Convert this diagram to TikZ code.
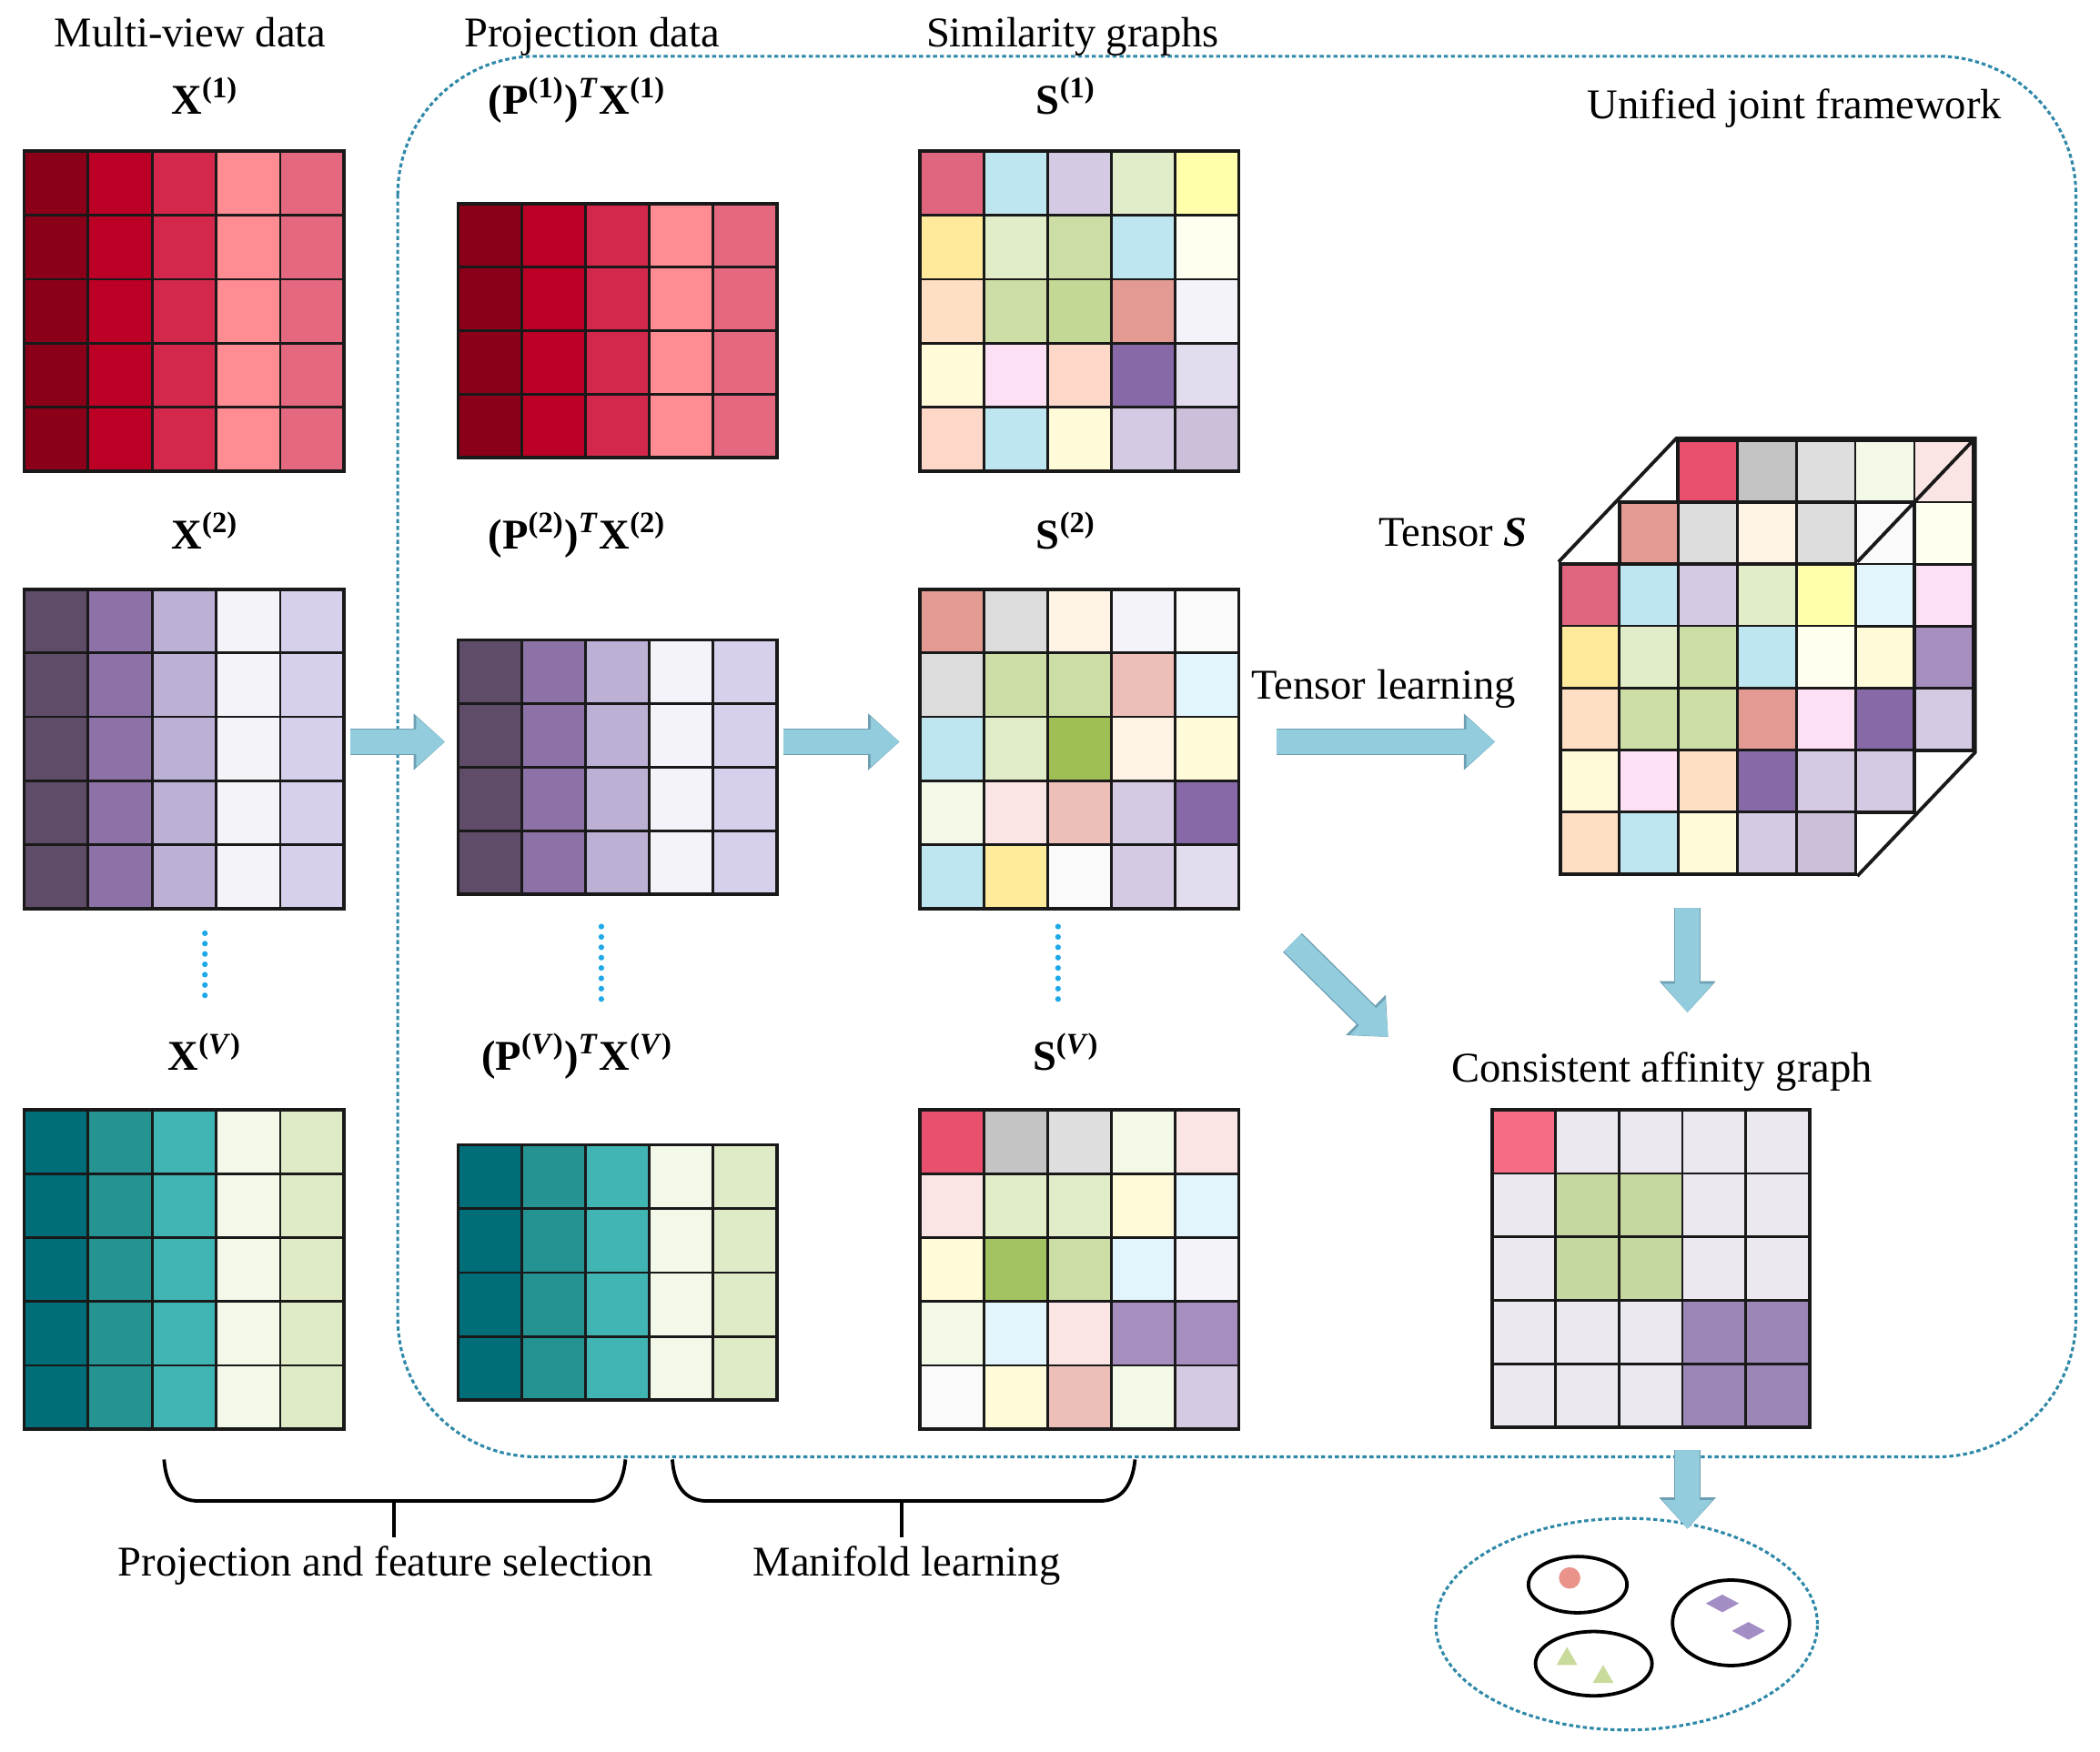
\documentclass[tikz,border=0pt]{standalone}
\usepackage{fontspec}
\setmainfont{Liberation Serif}
\usepackage{tikz}
\usetikzlibrary{arrows.meta, fit, positioning, shapes.geometric}
% column shades of the data matrices
\definecolor{r1}{HTML}{8B0018}\definecolor{r2}{HTML}{BC0025}\definecolor{r3}{HTML}{D3274B}
\definecolor{r4}{HTML}{FF8B93}\definecolor{r5}{HTML}{E36880}
\definecolor{p1}{HTML}{5F4C69}\definecolor{p2}{HTML}{8C72A6}\definecolor{p3}{HTML}{BCB0D5}
\definecolor{p4}{HTML}{F5F3FA}\definecolor{p5}{HTML}{D6D0EC}
\definecolor{t1}{HTML}{006E78}\definecolor{t2}{HTML}{259391}\definecolor{t3}{HTML}{40B5B4}
\definecolor{t4}{HTML}{F3F9E9}\definecolor{t5}{HTML}{DFEAC6}
% similarity graph shades
\definecolor{sRed}{HTML}{E0657E}\definecolor{sCyan}{HTML}{BDE6F0}\definecolor{sLav}{HTML}{D5CAE3}
\definecolor{sLgreen}{HTML}{E1ECC8}\definecolor{sYellow}{HTML}{FEFEAB}\definecolor{sGold}{HTML}{FEEA9A}
\definecolor{sGreen}{HTML}{CCDEA5}\definecolor{sIvory}{HTML}{FFFFF0}\definecolor{sPeach}{HTML}{FEDFC3}
\definecolor{sGreenB}{HTML}{C4D895}\definecolor{sSalmon}{HTML}{E29A92}\definecolor{sWhite}{HTML}{F5F3FA}
\definecolor{sCream}{HTML}{FFFAD8}\definecolor{sPink}{HTML}{FDE0F3}\definecolor{sApricot}{HTML}{FDD8C9}
\definecolor{sPurple}{HTML}{8669A6}\definecolor{sLilac}{HTML}{E3DCEE}\definecolor{sMauve}{HTML}{CCBFDA}
\definecolor{sGray}{HTML}{DCDCDC}\definecolor{sLinen}{HTML}{FFF3E5}\definecolor{sSnow}{HTML}{FAFAFA}
\definecolor{sRose}{HTML}{EEBEB9}\definecolor{sIce}{HTML}{E3F5FC}\definecolor{sBlush}{HTML}{FBE5E4}
\definecolor{sHoney}{HTML}{FEEC9A}\definecolor{sMint}{HTML}{F3F9E7}\definecolor{sOlive}{HTML}{9FBF55}
\definecolor{sCrimson}{HTML}{E8506E}\definecolor{sGrayB}{HTML}{C4C4C4}\definecolor{sGrayC}{HTML}{DEDEDE}
\definecolor{sOliveB}{HTML}{A3C262}\definecolor{sMidPurple}{HTML}{A68FBF}
\definecolor{aRed}{HTML}{F76B85}\definecolor{aGray}{HTML}{EBE8F0}\definecolor{aGreen}{HTML}{C5D89F}
\definecolor{aPurple}{HTML}{9B86B6}
% the rest
\definecolor{arrowfill}{HTML}{93CDDD}\definecolor{arrowedge}{HTML}{6C9FB2}
\definecolor{framecol}{HTML}{2E88A8}\definecolor{dotcol}{HTML}{1FA8E8}
\definecolor{dotred}{HTML}{E9938B}\definecolor{tricol}{HTML}{C8DB9B}\definecolor{diacol}{HTML}{A38DC5}
\newcommand{\labfont}{\fontsize{13.5pt}{16pt}\selectfont}
\newcommand{\vw}[1]{\textsuperscript{(#1)}}
\tikzset{
    cell/.style={draw=black!90, line width=0.8pt},
    gridframe/.style={draw=black!90, line width=1.1pt, inner sep=0pt},
    lab/.style={anchor=base, inner sep=0pt, font=\labfont},
    mathlab/.style={lab, font=\labfont\bfseries},
    framebox/.style={draw=framecol, line width=0.9pt, dash pattern=on 1.3pt off 0.9pt, rounded corners=1.55cm},
    vdots/.style={draw=dotcol, line width=1.8pt, line cap=round, dash pattern=on 0pt off 3.3pt},
    blockarrow/.style={draw=arrowfill, line width=7.7pt, -{Triangle[length=9.2pt,width=15.4pt]},
        preaction={draw=arrowedge, line width=8.5pt, -{Triangle[length=10pt,width=17.4pt]}}},
    brace/.style={draw, line width=1.1pt},
    cubeedge/.style={draw=black!90, line width=1.1pt},
    cluster/.style={draw, ellipse, line width=1.1pt, inner sep=0pt} }
% name, left, top, cell width, cell height, rows, colours (row by row, 5 a row)
\newcommand{\cellgrid}[7]{%
    \foreach \cc [count=\k from 0] in {#7} {
        \pgfmathtruncatemacro{\cellc}{mod(\k,5)}
        \pgfmathtruncatemacro{\cellr}{floor(\k/5)}
        \draw[cell, fill=\cc] ({#2+\cellc*#4},{#3+\cellr*#5}) rectangle ++(#4,#5);
    }
    \node[gridframe, fit={(#2,#3) ({#2+5*#4},{#3+#6*#5})}] (#1) {};
}

\begin{document}
\begin{tikzpicture}[x=0.015cm, y=-0.015cm]
    \path[use as bounding box, fill=white] (0,0) rectangle (1568,1308);
    % ---- unified framework
    \draw[framebox] (297,42) rectangle (1550,1088);
    \node[lab] (framelab) at (1340,89) {Unified joint framework};
    % ---- titles
    \node[lab] (mvtitle) at (142,35) {Multi-view data};
    \node[lab] (pjtitle) at (442,35) {Projection data};
    \node[lab] (sgtitle) at (801,35) {Similarity graphs};
    % ---- multi-view data
    \cellgrid{x1}{18}{113}{47.8}{47.8}{5}{r1,r2,r3,r4,r5,r1,r2,r3,r4,r5,r1,r2,r3,r4,r5,r1,r2,r3,r4,r5,r1,r2,r3,r4,r5}
    \cellgrid{x2}{18}{440}{47.8}{47.7}{5}{p1,p2,p3,p4,p5,p1,p2,p3,p4,p5,p1,p2,p3,p4,p5,p1,p2,p3,p4,p5,p1,p2,p3,p4,p5}
    \cellgrid{xv}{18}{829}{47.8}{47.7}{5}{t1,t2,t3,t4,t5,t1,t2,t3,t4,t5,t1,t2,t3,t4,t5,t1,t2,t3,t4,t5,t1,t2,t3,t4,t5}
    \node[mathlab] (x1lab) at (153,85) {X\vw{1}};
    \node[mathlab] (x2lab) at (153,410) {X\vw{2}};
    \node[mathlab] (xvlab) at (153,799) {X\vw{\textit{V}}};
    % ---- projection data
    \cellgrid{p1}{342}{152}{47.6}{47.5}{4}{r1,r2,r3,r4,r5,r1,r2,r3,r4,r5,r1,r2,r3,r4,r5,r1,r2,r3,r4,r5}
    \cellgrid{p2}{342}{478}{47.6}{47.5}{4}{p1,p2,p3,p4,p5,p1,p2,p3,p4,p5,p1,p2,p3,p4,p5,p1,p2,p3,p4,p5}
    \cellgrid{pv}{342}{855}{47.6}{47.7}{4}{t1,t2,t3,t4,t5,t1,t2,t3,t4,t5,t1,t2,t3,t4,t5,t1,t2,t3,t4,t5}
    \node[mathlab] (p1lab) at (431,85) {(P\vw{1})\textsuperscript{\textit{T}}X\vw{1}};
    \node[mathlab] (p2lab) at (431,410) {(P\vw{2})\textsuperscript{\textit{T}}X\vw{2}};
    \node[mathlab] (pvlab) at (431,799) {(P\vw{\textit{V}})\textsuperscript{\textit{T}}X\vw{\textit{V}}};
    % ---- similarity graphs
    \cellgrid{s1}{687}{113}{47.6}{47.8}{5}{sRed,sCyan,sLav,sLgreen,sYellow,
        sGold,sLgreen,sGreen,sCyan,sIvory,
        sPeach,sGreen,sGreenB,sSalmon,sWhite,
        sCream,sPink,sApricot,sPurple,sLilac,
        sApricot,sCyan,sCream,sLav,sMauve}
    \cellgrid{s2}{687}{440}{47.6}{47.7}{5}{sSalmon,sGray,sLinen,sWhite,sSnow,
        sGray,sGreen,sGreen,sRose,sIce,
        sCyan,sLgreen,sOlive,sLinen,sCream,
        sMint,sBlush,sRose,sLav,sPurple,
        sCyan,sHoney,sSnow,sLav,sLilac}
    \cellgrid{sv}{687}{829}{47.6}{47.7}{5}{sCrimson,sGrayB,sGrayC,sMint,sBlush,
        sBlush,sLgreen,sLgreen,sCream,sIce,
        sCream,sOliveB,sGreen,sIce,sWhite,
        sMint,sIce,sBlush,sMidPurple,sMidPurple,
        sSnow,sCream,sRose,sMint,sLav}
    \node[mathlab] (s1lab) at (796,85) {S\vw{1}};
    \node[mathlab] (s2lab) at (796,410) {S\vw{2}};
    \node[mathlab] (svlab) at (796,799) {S\vw{\textit{V}}};
    % ---- vertical dots
    \draw[vdots] (153,697) -- (153,750);
    \draw[vdots] (449,692) -- (449,748);
    \draw[vdots] (790,692) -- (790,748);
    % ---- tensor
    \cellgrid{tback}{1253}{328.6}{44.1}{46.4}{5}{sCrimson,sGrayB,sGrayC,sMint,sBlush,
        sSnow,sSnow,sSnow,sSnow,sIvory,
        sSnow,sSnow,sSnow,sSnow,sPink,
        sSnow,sSnow,sSnow,sSnow,sMidPurple,
        sSnow,sSnow,sSnow,sSnow,sLav}
    \cellgrid{tmid}{1209.1}{374.8}{44.1}{46.4}{5}{sSalmon,sGray,sLinen,sGray,sSnow,
        sSnow,sSnow,sSnow,sSnow,sIce,
        sSnow,sSnow,sSnow,sSnow,sCream,
        sSnow,sSnow,sSnow,sSnow,sPurple,
        sSnow,sSnow,sSnow,sSnow,sLav}
    \cellgrid{tensor}{1165}{421}{44.1}{46.4}{5}{sRed,sCyan,sLav,sLgreen,sYellow,
        sGold,sLgreen,sGreen,sCyan,sIvory,
        sPeach,sGreen,sGreen,sSalmon,sPink,
        sCream,sPink,sPeach,sPurple,sLav,
        sPeach,sCyan,sCream,sLav,sMauve}
    \draw[cubeedge] (tensor.north west) -- (tback.north west) -- (tback.north east)
        -- (tback.south east) -- (tensor.south east);
    \draw[cubeedge] (tensor.north east) -- (tback.north east);
    \node[lab] (tensorlab) at (1085,408) {Tensor \textbf{\textit{S}}};
    \node[lab] (tlearn) at (1033,522) {Tensor learning};
    % ---- consistent affinity graph
    \node[lab] (afflab) at (1241,808) {Consistent affinity graph};
    \cellgrid{aff}{1114}{829}{47.4}{47.4}{5}{aRed,aGray,aGray,aGray,aGray,
        aGray,aGreen,aGreen,aGray,aGray,
        aGray,aGreen,aGreen,aGray,aGray,
        aGray,aGray,aGray,aPurple,aPurple,
        aGray,aGray,aGray,aPurple,aPurple}
    % ---- clusters
    \node[cluster, draw=framecol, line width=0.9pt, dash pattern=on 1.3pt off 0.9pt,
        minimum width=4.275cm, minimum height=2.37cm] (clusters) at (1214.5,1213) {};
    \node[cluster, minimum width=1.104cm, minimum height=0.63cm] (cla) at (1178,1183.5) {};
    \node[cluster, minimum width=1.305cm, minimum height=0.72cm] (clb) at (1190,1242.5) {};
    \node[cluster, minimum width=1.311cm, minimum height=0.957cm] (clc) at (1292.5,1212) {};
    \node[circle, fill=dotred, minimum size=0.24cm, inner sep=0pt] (dota) at (1172,1178.5) {};
    \node[regular polygon, regular polygon sides=3, fill=tricol, minimum size=0.27cm, inner sep=0pt] (tria) at (1170,1239) {};
    \node[regular polygon, regular polygon sides=3, fill=tricol, minimum size=0.27cm, inner sep=0pt] (trib) at (1197,1252.5) {};
    \node[diamond, fill=diacol, minimum width=0.375cm, minimum height=0.204cm, inner sep=0pt] (diaa) at (1286,1197.5) {};
    \node[diamond, fill=diacol, minimum width=0.375cm, minimum height=0.204cm, inner sep=0pt] (diab) at (1305.5,1218) {};
    % ---- block arrows
    \coordinate (midrow) at (0,554);
    \coordinate (downcol) at (1260,0);
    \coordinate (diagtail) at (965,704);
    \coordinate (diagtip) at (1036.5,774.5);
    \draw[blockarrow, shorten <=1.3pt, shorten >=3.6pt] (x2.east |- midrow) -- (p2.west |- midrow);
    \draw[blockarrow, shorten <=1.7pt, shorten >=6pt] (p2.east |- midrow) -- (s2.west |- midrow);
    \draw[blockarrow, shorten <=11.5pt, shorten >=20.2pt] (s2.east |- midrow) -- (tensor.west |- midrow);
    \draw[blockarrow] (diagtail) -- (diagtip);
    \draw[blockarrow, shorten <=10.2pt, shorten >=12.4pt] (tensor.south -| downcol) -- (afflab.north -| downcol);
    \draw[blockarrow, shorten <=6.8pt, shorten >=-3.8pt] (aff.south -| downcol) -- (clusters.north -| downcol);
    % ---- braces
    \node[lab] (pfslab) at (288,1177) {Projection and feature selection};
    \node[lab] (mllab) at (677,1177) {Manifold learning};
    \coordinate (pfsmid) at (294,1121);
    \coordinate (mlmid) at (673,1121);
    \draw[brace] (122.5,1090) .. controls (124,1110) and (132,1121) .. (148.5,1121)
        -- (441,1121) .. controls (457,1121) and (465,1110) .. (467,1090);
    \draw[brace] (502,1090) .. controls (503.5,1110) and (511.5,1121) .. (528,1121)
        -- (821,1121) .. controls (837,1121) and (845.5,1110) .. (847.5,1090);
    \draw[brace, shorten >=2.5pt] (pfsmid) -- (pfsmid |- pfslab.north);
    \draw[brace, shorten >=2.5pt] (mlmid) -- (mlmid |- mllab.north);
\end{tikzpicture}
\end{document}
